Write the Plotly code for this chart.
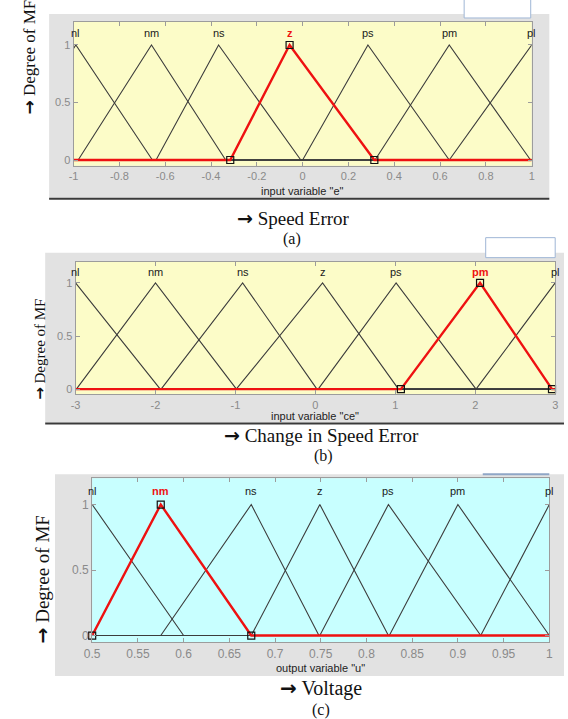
import plotly.graph_objects as go

W, H = 568, 719

# ---------------- data ----------------
mf_names = ["nl", "nm", "ns", "z", "ps", "pm", "pl"]

# (a) input "e": triangle params [a, b(peak), c]
e_a = [-1.33, -0.98, -0.64, -0.316, 0.0, 0.316, 0.64]
e_b = [-0.99, -0.66, -0.367, -0.057, 0.285, 0.64, 1.0]
e_c = [-0.656, -0.336, -0.008, 0.313, 0.64, 0.995, 1.36]
e_sel = 3
e_range = [-1, 1]
e_ticks = [-1, -0.8, -0.6, -0.4, -0.2, 0, 0.2, 0.4, 0.6, 0.8, 1]
e_ticktext = ["-1", "-0.8", "-0.6", "-0.4", "-0.2", "0", "0.2", "0.4", "0.6", "0.8", "1"]

# (b) input "ce"
ce_a = [-4.0, -2.99, -1.93, -0.99, 0.035, 1.07, 2.01]
ce_b = [-3.0, -2.0, -0.91, 0.09, 1.01, 2.06, 3.0]
ce_c = [-1.94, -0.987, 0.02, 1.04, 2.01, 2.96, 4.0]
ce_sel = 5
ce_range = [-3, 3]
ce_ticks = [-3, -2, -1, 0, 1, 2, 3]
ce_ticktext = ["-3", "-2", "-1", "0", "1", "2", "3"]

# (c) output "u"
u_a = [0.4, 0.5, 0.575, 0.674, 0.749, 0.825, 0.925]
u_b = [0.5, 0.575, 0.674, 0.749, 0.824, 0.9, 1.0]
u_c = [0.6, 0.674, 0.748, 0.824, 0.925, 1.0, 1.1]
u_sel = 1
u_range = [0.5, 1]
u_ticks = [0.5, 0.55, 0.6, 0.65, 0.7, 0.75, 0.8, 0.85, 0.9, 0.95, 1]
u_ticktext = ["0.5", "0.55", "0.6", "0.65", "0.7", "0.75", "0.8", "0.85", "0.9", "0.95", "1"]

y_ticks = [0, 0.5, 1]
y_ticktext = ["0", "0.5", "1"]
y_range = [-0.05, 1.2]


def tri(x, a, b, c):
    if x < a or x > c:
        return 0.0
    if x <= b:
        return 1.0 if b == a else (x - a) / (b - a)
    return 1.0 if c == b else (c - x) / (c - b)


def mf_poly(a, b, c, lo, hi):
    xs = [lo] + [p for p in (a, b, c) if lo < p < hi] + [hi]
    return xs, [tri(x, a, b, c) for x in xs]


def px(x):
    return x / W


def py(y):
    return 1 - y / H


fig = go.Figure()

panels = [
    dict(a=e_a, b=e_b, c=e_c, sel=e_sel, rng=e_range, ticks=e_ticks, tt=e_ticktext,
         dom_x=[px(67), px(535)], dom_y=[py(166), py(22)], bg="#fcfcc8", tickfs=11,
         xtitle='input variable "e"', xtitle_y=191),
    dict(a=ce_a, b=ce_b, c=ce_c, sel=ce_sel, rng=ce_range, ticks=ce_ticks, tt=ce_ticktext,
         dom_x=[px(69), px(559)], dom_y=[py(395), py(262)], bg="#fcfcc8", tickfs=11,
         xtitle='input variable "ce"', xtitle_y=417),
    dict(a=u_a, b=u_b, c=u_c, sel=u_sel, rng=u_range, ticks=u_ticks, tt=u_ticktext,
         dom_x=[px(86), px(553)], dom_y=[py(643), py(479)], bg="#c8ffff", tickfs=12,
         xtitle='output variable "u"', xtitle_y=669),
]

shapes = []
annotations = []

# gray panel backgrounds
for (x0, x1, y0, y1) in [(42, 553, 14, 198), (38, 568, 253, 423), (48, 568, 475, 677)]:
    shapes.append(dict(type="rect", xref="paper", yref="paper", x0=px(x0), x1=px(x1),
                       y0=py(y1), y1=py(y0), fillcolor="#e2e2e2", line=dict(width=0),
                       layer="below"))
# dark bottom edges
for (x0, x1, y) in [(42, 553, 199), (38, 568, 424)]:
    shapes.append(dict(type="line", xref="paper", yref="paper", x0=px(x0), x1=px(x1),
                       y0=py(y), y1=py(y), line=dict(color="#3a3a3a", width=2)))
# small white boxes at top right
for (x0, x1, y0, y1) in [(466, 534, -2, 18), (488, 559, 238, 258)]:
    shapes.append(dict(type="rect", xref="paper", yref="paper", x0=px(x0), x1=px(x1),
                       y0=py(y1), y1=py(y0), fillcolor="white",
                       line=dict(color="#9fb6d6", width=1)))
shapes.append(dict(type="line", xref="paper", yref="paper", x0=px(485), x1=px(553),
                   y0=py(475), y1=py(475), line=dict(color="#8fa6c6", width=2)))

for i, p in enumerate(panels):
    k = "" if i == 0 else str(i + 1)
    xa, ya = "x" + k, "y" + k
    lo, hi = p["rng"]
    # plot-area background
    shapes.append(dict(type="rect", xref=xa + " domain", yref=ya + " domain",
                       x0=0, x1=1, y0=0, y1=1, fillcolor=p["bg"],
                       line=dict(width=0), layer="below"))
    # black MFs
    for j in range(len(mf_names)):
        if j == p["sel"]:
            continue
        xs, ys = mf_poly(p["a"][j], p["b"][j], p["c"][j], lo, hi)
        fig.add_trace(go.Scatter(x=xs, y=ys, mode="lines", xaxis=xa, yaxis=ya,
                                 line=dict(color="#3c3c3c", width=1.1),
                                 showlegend=False, hoverinfo="skip"))
    # selected MF in red
    s = p["sel"]
    xs, ys = mf_poly(p["a"][s], p["b"][s], p["c"][s], lo, hi)
    fig.add_trace(go.Scatter(x=xs, y=ys, mode="lines", xaxis=xa, yaxis=ya,
                             line=dict(color="#ee1111", width=2.4),
                             showlegend=False, hoverinfo="skip"))
    mx = [v for v in (p["a"][s], p["b"][s], p["c"][s]) if lo <= v <= hi]
    my = [tri(v, p["a"][s], p["b"][s], p["c"][s]) for v in mx]
    fig.add_trace(go.Scatter(x=mx, y=my, mode="markers", xaxis=xa, yaxis=ya,
                             marker=dict(symbol="square-open", size=7,
                                         color="#111111", line=dict(width=1.2)),
                             showlegend=False, hoverinfo="skip", cliponaxis=False))
    # MF name labels
    for j, name in enumerate(mf_names):
        sel = j == p["sel"]
        annotations.append(dict(
            x=p["b"][j], y=1.1, xref=xa, yref=ya, showarrow=False,
            xanchor="center", yanchor="middle",
            text=("<b>%s</b>" % name) if sel else name,
            font=dict(family="Liberation Sans, Arial", size=11,
                      color="#ee1111" if sel else "#1a1a1a")))
    # x variable title
    annotations.append(dict(
        x=(p["dom_x"][0] + p["dom_x"][1]) / 2, y=py(p["xtitle_y"]), xref="paper",
        yref="paper", showarrow=False, xanchor="center", yanchor="middle",
        text=p["xtitle"],
        font=dict(family="Liberation Sans, Arial", size=11, color="#222222")))

    axis_common = dict(showline=True, linecolor="#9c9c9c", linewidth=1, mirror="ticks",
                       ticks="inside", ticklen=4, tickcolor="#9c9c9c", showgrid=False,
                       zeroline=False, fixedrange=True,
                       tickfont=dict(family="Liberation Sans, Arial", size=p["tickfs"],
                                     color="#8a8a8a"))
    fig.update_layout(**{
        "xaxis" + k: dict(domain=p["dom_x"], range=p["rng"], anchor=ya,
                          tickvals=p["ticks"], ticktext=p["tt"], **axis_common),
        "yaxis" + k: dict(domain=p["dom_y"], range=y_range, anchor=xa,
                          tickvals=y_ticks, ticktext=y_ticktext, **axis_common),
    })

serif = "Liberation Serif, Times New Roman, serif"
ARROW = "<span style=\"font-family:'DejaVu Sans';font-weight:bold\">→</span>"
# y titles
for (x, y, fs) in [(21, 57, 17), (32, 350, 15), (35, 580, 19)]:
    annotations.append(dict(x=px(x), y=py(y), xref="paper", yref="paper", showarrow=False,
                            xanchor="center", yanchor="middle",
                            text=ARROW + " Degree of MF", textangle=-90,
                            font=dict(family=serif, size=fs, color="#111111")))
# bottom captions
for (x, y, t, fs) in [(292, 218, ARROW + " Speed Error", 19), (290, 239, "(a)", 16),
                      (320, 436, ARROW + " Change in Speed Error", 19), (322, 457, "(b)", 16),
                      (320, 689, ARROW + " Voltage", 20), (320, 711, "(c)", 16)]:
    annotations.append(dict(x=px(x), y=py(y), xref="paper", yref="paper", showarrow=False,
                            xanchor="center", yanchor="middle",
                            text=t, font=dict(family=serif, size=fs, color="#111111")))

fig.update_layout(width=W, height=H, margin=dict(l=0, r=0, t=0, b=0),
                  paper_bgcolor="white", plot_bgcolor="rgba(0,0,0,0)",
                  shapes=shapes, annotations=annotations, showlegend=False)

fig.write_html("out.html", config={"displayModeBar": False})
